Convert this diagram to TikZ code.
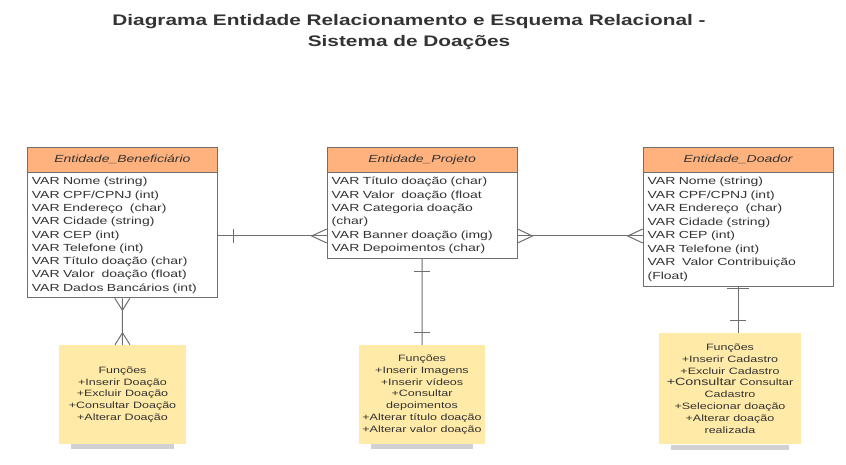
\documentclass[tikz,border=0pt]{standalone}
\usepackage{fontspec}
\setmainfont{Liberation Sans}[FakeStretch=1.36]
\usetikzlibrary{positioning,calc}

\definecolor{headorange}{HTML}{FFB27D}
\definecolor{noteyellow}{HTML}{FFEAA7}
\definecolor{linegray}{HTML}{6E6E6E}
\definecolor{textgray}{HTML}{333333}

\tikzset{
    titulo/.style={align=center, font=\fontsize{15.3}{21.5}\selectfont\bfseries, text=textgray},
    ent/.style={draw=linegray, line width=0.8pt, minimum width=190pt, anchor=north west},
    enthead/.style={ent, fill=headorange, minimum height=25pt, inner sep=0pt, font=\fontsize{10.3}{12}\selectfont\itshape, text=textgray},
    entbody/.style={ent, fill=white, align=left, text width=181pt, inner xsep=4.5pt, inner ysep=4.5pt, font=\fontsize{10.3}{13.3}\selectfont, text=textgray},
    nota/.style={fill=noteyellow, align=center, inner sep=0pt, font=\fontsize{9.2}{11.8}\selectfont, text=textgray},
    sombra/.style={fill=black!40, opacity=0.45},
    conn/.style={draw=linegray, line width=1pt}
}

\begin{document}
\begin{tikzpicture}[x=1pt, y=-1pt]
    \useasboundingbox (0,0) rectangle (846,465);

    % titulo
    \node[titulo] (titulo) at (409,32) {Diagrama Entidade Relacionamento e Esquema Relacional -\\Sistema de Doações};

    % entidades
    \node[enthead] (benhead) at (27,146.7) {Entidade\_Beneficiário};
    \node[entbody] (ben) at (benhead.south west) {VAR Nome (string)\\VAR CPF/CPNJ (int)\\VAR Endereço\ \ (char)\\VAR Cidade (string)\\VAR CEP (int)\\VAR Telefone (int)\\VAR Título doação (char)\\VAR Valor\ \ doação (float)\\VAR Dados Bancários (int)};

    \node[enthead] (projhead) at (326.7,146.7) {Entidade\_Projeto};
    \node[entbody] (proj) at (projhead.south west) {VAR Título doação (char)\\VAR Valor\ \ doação (float\\VAR Categoria doação\\(char)\\VAR Banner doação (img)\\VAR Depoimentos (char)};

    \node[enthead] (donhead) at (642.7,146.7) {Entidade\_Doador};
    \node[entbody, font=\fontsize{10.3}{13.5}\selectfont] (don) at (donhead.south west) {VAR Nome (string)\\VAR CPF/CPNJ (int)\\VAR Endereço\ \ (char)\\VAR Cidade (string)\\VAR CEP (int)\\VAR Telefone (int)\\VAR\ \ Valor Contribuição\\(Float)};

    % notas de funcoes
    \node[nota, minimum width=127pt, minimum height=99pt] (notaben) at (122.5,394.5) {Funções\\+Inserir Doação\\+Excluir Doação\\+Consultar Doação\\+Alterar Doação};
    \node[nota, minimum width=126pt, minimum height=99pt] (notaproj) at (422,394.5) {Funções\\+Inserir Imagens\\+Inserir vídeos\\+Consultar\\depoimentos\\+Alterar título doação\\+Alterar valor doação};
    \node[nota, minimum width=142pt, minimum height=111.6pt] (notadon) at (730,388.5) {Funções\\+Inserir Cadastro\\+Excluir Cadastro\\{\fontsize{10.5}{11.8}\selectfont +Consultar} Consultar\\Cadastro\\+Selecionar doação\\+Alterar doação\\realizada};

    \fill[sombra] ($(notaben.south west)+(12,0)$) rectangle ($(notaben.south east)+(-12,5)$);
    \fill[sombra] ($(notaproj.south west)+(12,0)$) rectangle ($(notaproj.south east)+(-12,5)$);
    \fill[sombra] ($(notadon.south west)+(12,0)$) rectangle ($(notadon.south east)+(-12,5)$);

    % relacionamentos
    \coordinate (linha) at (0,236);
    \draw[conn] (ben.east |- linha) -- (proj.west |- linha);
    \draw[conn] ($(ben.east |- linha)+(16,-7)$) -- ++(0,14);
    \draw[conn] ($(proj.west |- linha)+(0,-7)$) -- ++(-15,7) -- ++(15,7);

    \draw[conn] (proj.east |- linha) -- (don.west |- linha);
    \draw[conn] ($(proj.east |- linha)+(0,-7)$) -- ++(15,7) -- ++(-15,7);
    \draw[conn] ($(don.west |- linha)+(0,-7)$) -- ++(-15,7) -- ++(15,7);

    \draw[conn] (ben.south) -- (notaben.north);
    \draw[conn] ($(ben.south)+(-7.5,0)$) -- ++(7.5,12) -- ++(7.5,-12);
    \draw[conn] ($(notaben.north)+(-7.5,0)$) -- ++(7.5,-12) -- ++(7.5,12);

    \draw[conn] (proj.south) -- (notaproj.north);
    \draw[conn] ($(proj.south)+(-8,13)$) -- ++(16,0);
    \draw[conn] ($(notaproj.north)+(-8,-12.3)$) -- ++(16,0);

    \draw[conn] (don.south) -- (don.south |- notadon.north);
    \draw[conn] ($(don.south)+(-11,2)$) -- ++(22,0);
    \draw[conn] ($(don.south |- notadon.north)+(-8,-12)$) -- ++(16,0);

\end{tikzpicture}
\end{document}
